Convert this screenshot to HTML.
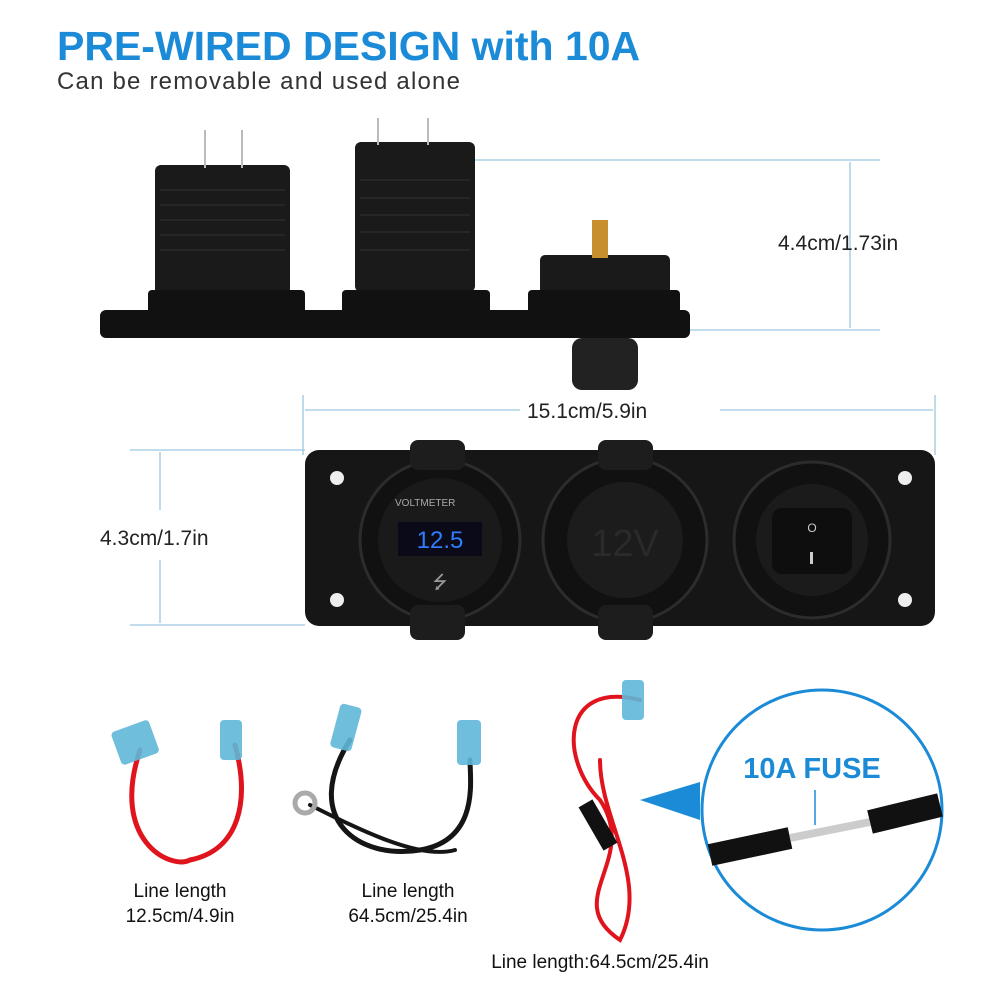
<!DOCTYPE html>
<html><head><meta charset="utf-8"><style>
html,body{margin:0;padding:0;background:#fff;}
svg{display:block}
text{font-family:"Liberation Sans",sans-serif}
</style></head><body>
<svg width="1000" height="1000" viewBox="0 0 1000 1000" xmlns="http://www.w3.org/2000/svg">
<rect width="1000" height="1000" fill="#fff"/>
<text x="57" y="60" font-size="41" font-weight="bold" fill="#1b8bd8">PRE-WIRED DESIGN with 10A</text>
<text x="57" y="89" font-size="24" letter-spacing="1.2" fill="#333">Can be removable and used alone</text>

<g stroke="#9cc7e0" stroke-width="1.3" fill="none">
<line x1="470" y1="160" x2="880" y2="160"/>
<line x1="690" y1="330" x2="880" y2="330"/>
<line x1="850" y1="162" x2="850" y2="328"/>
<line x1="303" y1="395" x2="303" y2="455"/>
<line x1="935" y1="395" x2="935" y2="455"/>
<line x1="305" y1="410" x2="520" y2="410"/>
<line x1="720" y1="410" x2="933" y2="410"/>
<line x1="130" y1="450" x2="305" y2="450"/>
<line x1="130" y1="625" x2="305" y2="625"/>
<line x1="160" y1="452" x2="160" y2="510"/>
<line x1="160" y1="560" x2="160" y2="623"/>
</g>
<text x="778" y="250" font-size="21" fill="#222">4.4cm/1.73in</text>
<text x="527" y="418" font-size="21" fill="#222">15.1cm/5.9in</text>
<text x="100" y="545" font-size="21" fill="#222">4.3cm/1.7in</text>

<g fill="#111">
<rect x="100" y="310" width="590" height="28" rx="6"/>
<rect x="155" y="165" width="135" height="130" rx="6" fill="#1a1a1a"/>
<rect x="148" y="290" width="157" height="26" rx="4"/>
<rect x="355" y="142" width="120" height="150" rx="6" fill="#1a1a1a"/>
<rect x="342" y="290" width="148" height="26" rx="4"/>
<rect x="540" y="255" width="130" height="40" rx="5" fill="#1a1a1a"/>
<rect x="528" y="290" width="152" height="30" rx="4"/>
<rect x="572" y="338" width="66" height="52" rx="10" fill="#222"/>
</g>
<g stroke="#bbb" stroke-width="2">
<line x1="205" y1="130" x2="205" y2="168"/><line x1="242" y1="130" x2="242" y2="168"/>
<line x1="378" y1="118" x2="378" y2="145"/><line x1="428" y1="118" x2="428" y2="145"/>
</g>
<rect x="592" y="220" width="16" height="38" fill="#c8902d"/>
<g stroke="#333" stroke-width="1">
<line x1="160" y1="190" x2="285" y2="190"/><line x1="160" y1="205" x2="285" y2="205"/><line x1="160" y1="220" x2="285" y2="220"/><line x1="160" y1="235" x2="285" y2="235"/><line x1="160" y1="250" x2="285" y2="250"/>
<line x1="360" y1="180" x2="470" y2="180"/><line x1="360" y1="198" x2="470" y2="198"/><line x1="360" y1="215" x2="470" y2="215"/><line x1="360" y1="232" x2="470" y2="232"/><line x1="360" y1="250" x2="470" y2="250"/>
</g>

<rect x="305" y="450" width="630" height="176" rx="14" fill="#161616"/>
<g fill="#eee"><circle cx="337" cy="478" r="7"/><circle cx="337" cy="600" r="7"/><circle cx="905" cy="478" r="7"/><circle cx="905" cy="600" r="7"/></g>
<g fill="#111" stroke="#2c2c2c" stroke-width="3">
<circle cx="440" cy="540" r="80"/><circle cx="625" cy="540" r="82"/><circle cx="812" cy="540" r="78"/>
</g>
<rect x="410" y="440" width="55" height="30" rx="8" fill="#1d1d1d"/>
<rect x="410" y="605" width="55" height="35" rx="8" fill="#1d1d1d"/>
<rect x="598" y="440" width="55" height="30" rx="8" fill="#1d1d1d"/>
<rect x="598" y="605" width="55" height="35" rx="8" fill="#1d1d1d"/>
<circle cx="440" cy="540" r="62" fill="#1a1a1a"/>
<text x="395" y="506" font-size="10" fill="#aaa">VOLTMETER</text>
<rect x="398" y="522" width="84" height="34" fill="#0a0a18"/>
<text x="440" y="548" font-size="24" fill="#2f7cff" text-anchor="middle">12.5</text>
<text x="440" y="588" font-size="18" fill="#999" text-anchor="middle">⭍</text>
<circle cx="625" cy="540" r="58" fill="#1c1c1c"/>
<text x="625" y="556" font-size="38" fill="#2a2a2a" text-anchor="middle">12V</text>
<circle cx="812" cy="540" r="56" fill="#1b1b1b"/>
<rect x="772" y="508" width="80" height="66" rx="10" fill="#0e0e0e"/>
<text x="812" y="532" font-size="12" fill="#ccc" text-anchor="middle">O</text>
<rect x="810" y="552" width="3" height="12" fill="#ccc"/>

<g fill="none" stroke-linecap="round">
<path d="M140 750 C110 840,170 870,190 860 C240 850,250 800,235 745" stroke="#e0141c" stroke-width="5"/>
<path d="M350 740 C300 820,360 860,420 850 C480 840,470 780,470 760" stroke="#151515" stroke-width="5"/>
<path d="M310 805 C360 830,420 860,455 850" stroke="#151515" stroke-width="4"/>
<path d="M640 700 C560 680,560 760,600 800 C640 860,560 900,620 940 C650 880,600 820,600 760" stroke="#e0141c" stroke-width="4"/>
</g>
<g fill="#5fb7d9" opacity="0.9">
<rect x="115" y="725" width="40" height="35" rx="4" transform="rotate(-20 135 742)"/>
<rect x="220" y="720" width="22" height="40" rx="4"/>
<rect x="335" y="705" width="22" height="45" rx="4" transform="rotate(15 346 727)"/>
<rect x="457" y="720" width="24" height="45" rx="4"/>
<rect x="622" y="680" width="22" height="40" rx="4"/>
</g>
<circle cx="305" cy="803" r="10" fill="none" stroke="#aaa" stroke-width="5"/>
<rect x="590" y="800" width="16" height="50" fill="#111" transform="rotate(-30 598 825)"/>

<polygon points="640,800 700,782 700,820" fill="#1b8bd8"/>
<circle cx="822" cy="810" r="120" fill="#fff" stroke="#1b8bd8" stroke-width="3"/>
<text x="812" y="778" font-size="29" font-weight="bold" fill="#1b8bd8" text-anchor="middle">10A FUSE</text>
<line x1="815" y1="790" x2="815" y2="825" stroke="#1b8bd8" stroke-width="1.5"/>
<path d="M710 855 L790 838" stroke="#111" stroke-width="22"/>
<path d="M790 838 L870 822" stroke="#ccc" stroke-width="8"/>
<path d="M870 822 L940 805" stroke="#111" stroke-width="24"/>

<g font-size="19" fill="#111" text-anchor="middle">
<text x="180" y="897">Line length</text><text x="180" y="922">12.5cm/4.9in</text>
<text x="408" y="897">Line length</text><text x="408" y="922">64.5cm/25.4in</text>
<text x="600" y="968">Line length:64.5cm/25.4in</text>
</g>
</svg>
</body></html>
